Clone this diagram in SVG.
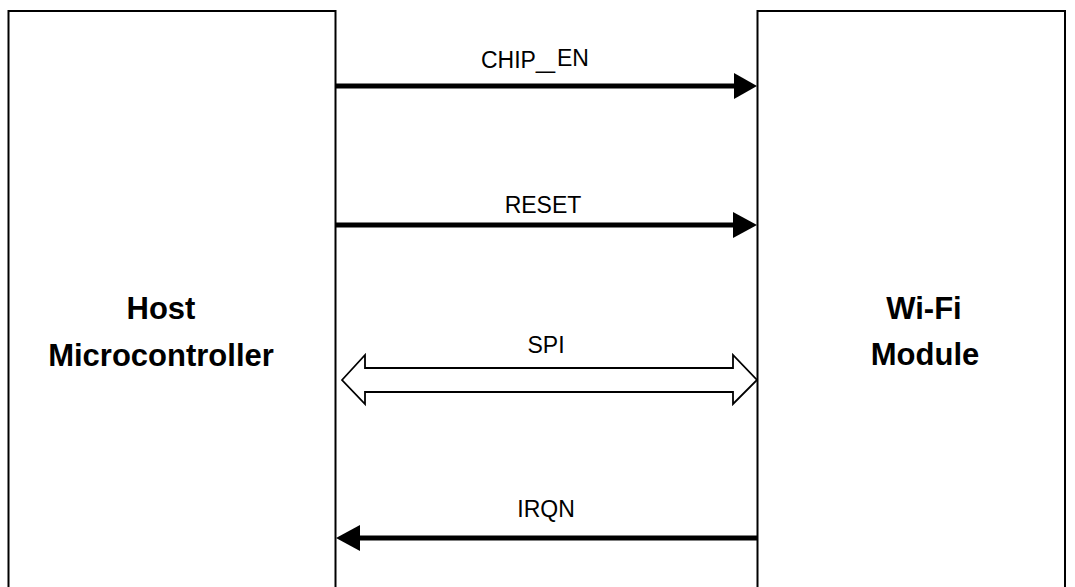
<svg xmlns="http://www.w3.org/2000/svg" width="1075" height="587" viewBox="0 0 1075 587">
<style>
.box{fill:#fff;stroke:#000;stroke-width:2}
.title{font-family:"Liberation Sans",Arial,sans-serif;font-weight:bold;font-size:31px;fill:#000;text-anchor:middle}
.sig{font-family:"Liberation Sans",Arial,sans-serif;font-size:23px;fill:#000}
.thick{stroke:#000;stroke-width:5;fill:none}
.head{fill:#000;stroke:none}
.hollow{fill:#fff;stroke:#000;stroke-width:1.8;stroke-linejoin:miter}
</style>
<rect width="1075" height="587" fill="#fff"/>
<g id="host">
<rect class="box" x="8.5" y="11" width="327" height="600"/>
<text class="title" x="161" y="319">Host</text>
<text class="title" x="161" y="366">Microcontroller</text>
</g>
<g id="wifi">
<rect class="box" x="757.5" y="11" width="307.5" height="600"/>
<text class="title" x="924" y="319">Wi-Fi</text>
<text class="title" x="925" y="365">Module</text>
</g>
<g id="connectors">
<g id="chip_en">
<line class="thick" x1="336" y1="86" x2="736" y2="86"/>
<polygon class="head" points="734,73 757,86 734,99"/>
<text class="sig" x="481" y="68">CHIP<tspan textLength="19" lengthAdjust="spacingAndGlyphs">_</tspan><tspan x="557" y="66">EN</tspan></text>
</g>
<g id="reset">
<line class="thick" x1="336" y1="225" x2="735" y2="225"/>
<polygon class="head" points="733,212 757,225 733,238"/>
<text class="sig" x="543" y="213" text-anchor="middle">RESET</text>
</g>
<g id="spi">
<polygon class="hollow" points="342,380 365,355 365,368 733,368 733,355 757,380 733,404 733,392 365,392 365,404"/>
<text class="sig" x="546" y="353" text-anchor="middle">SPI</text>
</g>
<g id="irqn">
<line class="thick" x1="757" y1="538" x2="358" y2="538"/>
<polygon class="head" points="336,538 360,525 360,551"/>
<text class="sig" x="546" y="517" text-anchor="middle">IRQN</text>
</g>
</g>
</svg>
